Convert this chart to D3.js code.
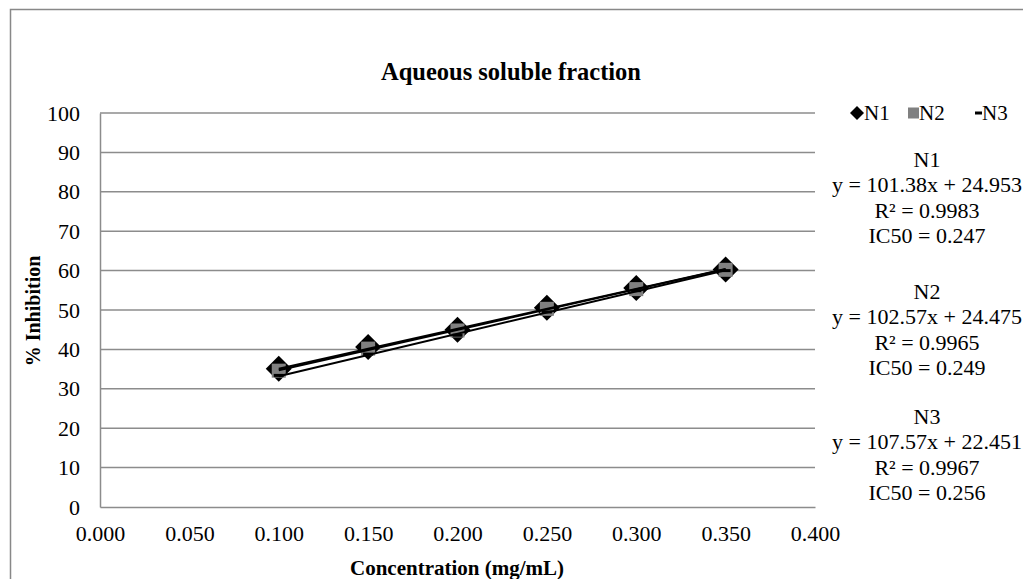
<!DOCTYPE html>
<html>
<head>
<meta charset="utf-8">
<script src="https://cdn.jsdelivr.net/npm/d3@7"></script>
<style>
  html, body { margin: 0; padding: 0; background: #fff; }
  svg { display: block; font-family: "Liberation Serif", "Times New Roman", serif; }
</style>
</head>
<body>
<svg id="chart" width="1023" height="579"></svg>
<script>
// Concentrations tested (mg/mL)
const concentrations = [0.10, 0.15, 0.20, 0.25, 0.30, 0.35];

// % inhibition per replicate
const seriesNames = ["N1", "N2", "N3"];
const n1Values = [35.1, 40.6, 45.0, 50.6, 55.6, 60.3];
const n2Values = [34.6, 40.2, 44.8, 50.3, 55.3, 60.2];
const n3Values = [33.4, 38.8, 43.6, 49.5, 54.9, 60.0];

// Linear fit parameters per replicate
const slopes = [101.38, 102.57, 107.57];
const intercepts = [24.953, 24.475, 22.451];
const rSquared = ["0.9983", "0.9965", "0.9967"];
const ic50 = ["0.247", "0.249", "0.256"];

// Axis ticks
const xTicks = [0, 0.05, 0.10, 0.15, 0.20, 0.25, 0.30, 0.35, 0.40];
const yTicks = [0, 10, 20, 30, 40, 50, 60, 70, 80, 90, 100];

const FONT = "Liberation Serif";
const svg = d3.select("#chart");
const margin = { left: 100, right: 815, top: 113, bottom: 507 };

const x = d3.scaleLinear().domain([0, 0.4]).range([margin.left, margin.right]);
const y = d3.scaleLinear().domain([0, 100]).range([margin.bottom, margin.top]);

// Outer chart frame
svg.append("rect")
  .attr("x", 10.5).attr("y", 9.5)
  .attr("width", 1030).attr("height", 600)
  .attr("fill", "none").attr("stroke", "#888").attr("stroke-width", 1.5);

// Title
svg.append("text")
  .attr("x", 511).attr("y", 80)
  .attr("text-anchor", "middle")
  .attr("font-family", FONT)
  .attr("font-size", 24.5).attr("font-weight", "bold")
  .text("Aqueous soluble fraction");

// Horizontal gridlines
svg.append("g").selectAll("line")
  .data(yTicks.filter(d => d > 0))
  .join("line")
  .attr("x1", margin.left).attr("x2", margin.right)
  .attr("y1", d => y(d)).attr("y2", d => y(d))
  .attr("stroke", "#8c8c8c").attr("stroke-width", 1.5);

// Y axis
const yAxis = svg.append("g")
  .attr("transform", `translate(${margin.left},0)`)
  .call(d3.axisLeft(y).tickValues(yTicks).tickSize(0).tickPadding(20).tickFormat(d3.format("d")));
yAxis.select(".domain").attr("stroke", "#8c8c8c").attr("stroke-width", 1.5);
yAxis.selectAll("text").attr("font-size", 22).attr("font-family", FONT).attr("fill", "#000");

// X axis
const xAxis = svg.append("g")
  .attr("transform", `translate(0,${margin.bottom})`)
  .call(d3.axisBottom(x).tickValues(xTicks).tickSize(0).tickPadding(18).tickFormat(d3.format(".3f")));
xAxis.select(".domain").attr("stroke", "#8c8c8c").attr("stroke-width", 1.5);
xAxis.selectAll("text").attr("font-size", 22).attr("font-family", FONT).attr("fill", "#000");

// Axis titles
svg.append("text")
  .attr("x", 457).attr("y", 575)
  .attr("text-anchor", "middle")
  .attr("font-family", FONT)
  .attr("font-size", 21).attr("font-weight", "bold")
  .text("Concentration (mg/mL)");
svg.append("text")
  .attr("transform", "translate(40,311) rotate(-90)")
  .attr("text-anchor", "middle")
  .attr("font-family", FONT)
  .attr("font-size", 20).attr("font-weight", "bold")
  .text("% Inhibition");

const allValues = [n1Values, n2Values, n3Values];
const points = allValues.map(vals => concentrations.map((c, i) => ({ c, v: vals[i] })));

// N1 markers: black diamonds
svg.append("g").selectAll("path")
  .data(points[0]).join("path")
  .attr("transform", d => `translate(${x(d.c)},${y(d.v)})`)
  .attr("d", "M0,-13 L13,0 L0,13 L-13,0 Z")
  .attr("fill", "#000");

// N2 markers: grey squares
svg.append("g").selectAll("rect")
  .data(points[1]).join("rect")
  .attr("x", d => x(d.c) - 7).attr("y", d => y(d.v) - 7)
  .attr("width", 14).attr("height", 14)
  .attr("fill", "#808080");

// N3 markers: short black dashes
svg.append("g").selectAll("rect")
  .data(points[2]).join("rect")
  .attr("x", d => x(d.c) - 5).attr("y", d => y(d.v) - 1.5)
  .attr("width", 10).attr("height", 3)
  .attr("fill", "#000");

// Linear trendlines over the tested range
const xMin = d3.min(concentrations), xMax = d3.max(concentrations);
slopes.forEach((m, i) => {
  const b = intercepts[i];
  svg.append("line")
    .attr("x1", x(xMin)).attr("y1", y(m * xMin + b))
    .attr("x2", x(xMax)).attr("y2", y(m * xMax + b))
    .attr("stroke", "#000").attr("stroke-width", 2);
});

// Legend
const legend = svg.append("g").attr("font-size", 21).attr("font-family", FONT);
const legendY = 113;
legend.append("path")
  .attr("transform", `translate(857,${legendY})`)
  .attr("d", "M0,-7 L7,0 L0,7 L-7,0 Z").attr("fill", "#000");
legend.append("text").attr("x", 864).attr("y", legendY + 7).text(seriesNames[0]);
legend.append("rect")
  .attr("x", 908).attr("y", legendY - 5.5).attr("width", 11).attr("height", 11)
  .attr("fill", "#808080");
legend.append("text").attr("x", 919).attr("y", legendY + 7).text(seriesNames[1]);
legend.append("rect")
  .attr("x", 975).attr("y", legendY - 1.5).attr("width", 7).attr("height", 3)
  .attr("fill", "#000");
legend.append("text").attr("x", 982).attr("y", legendY + 7).text(seriesNames[2]);

// Fit annotations
const blockCenters = [160, 292, 417];
seriesNames.forEach((name, i) => {
  const lines = [
    name,
    `y = ${slopes[i].toFixed(2)}x + ${intercepts[i].toFixed(3)}`,
    `R² = ${rSquared[i]}`,
    `IC50 = ${ic50[i]}`
  ];
  svg.append("g").selectAll("text")
    .data(lines).join("text")
    .attr("x", 927)
    .attr("y", (d, j) => blockCenters[i] + j * 25.3 + 7)
    .attr("text-anchor", "middle")
    .attr("font-family", FONT)
    .attr("font-size", 22)
    .text(d => d);
});
</script>
</body>
</html>
